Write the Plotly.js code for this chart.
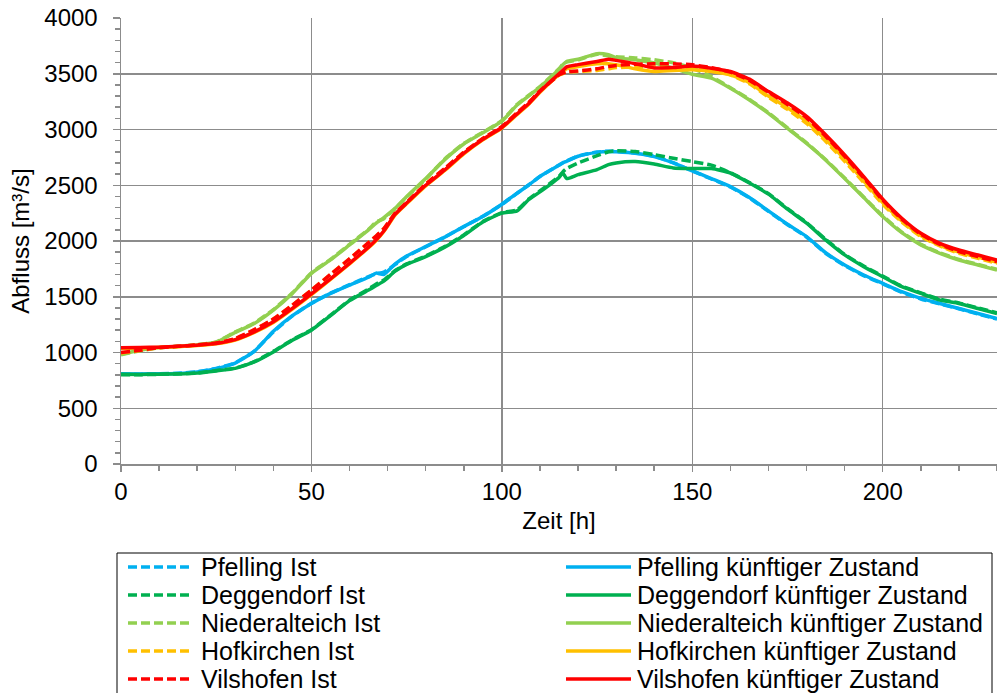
<!DOCTYPE html>
<html>
<head>
<meta charset="utf-8">
<script src="https://cdn.plot.ly/plotly-3.0.1.min.js"></script>
<style>
  html, body { margin: 0; padding: 0; background: #fff; }
  #chart { width: 997px; height: 693px; }
</style>
</head>
<body>
<div id="chart"></div>
<script>
// Zeit [h]
const zeit = [0, 5, 10, 15, 20, 25, 30, 35, 40, 45, 50, 55, 60, 65, 67, 69, 72, 75, 80, 85, 90, 95, 100, 104, 107, 110, 115, 116, 117, 120, 125, 128, 130, 135, 140, 145, 150, 155, 160, 165, 170, 175, 180, 185, 190, 195, 200, 205, 210, 215, 220, 225, 230];

// Abfluss [m³/s] je Pegel, Ist-Zustand und künftiger Zustand
const pfellingIst = [805, 806, 809, 813, 827, 858, 908, 1012, 1185, 1328, 1442, 1532, 1608, 1680, 1705, 1720, 1790, 1862, 1948, 2037, 2128, 2222, 2328, 2428, 2502, 2578, 2682, 2702, 2718, 2762, 2798, 2806, 2804, 2790, 2760, 2702, 2628, 2556, 2484, 2386, 2266, 2146, 2036, 1890, 1780, 1690, 1615, 1540, 1480, 1435, 1392, 1346, 1300];
const pfellingKuenftig = [810, 808, 810, 812, 825, 855, 905, 1010, 1190, 1330, 1440, 1530, 1605, 1675, 1712, 1700, 1795, 1865, 1950, 2035, 2130, 2220, 2330, 2430, 2500, 2580, 2680, 2700, 2715, 2760, 2795, 2803, 2800, 2787, 2757, 2700, 2630, 2560, 2488, 2390, 2270, 2150, 2040, 1895, 1785, 1695, 1620, 1545, 1485, 1440, 1395, 1350, 1305];
const deggendorfIst = [800, 801, 804, 809, 817, 838, 860, 918, 1010, 1115, 1205, 1335, 1470, 1570, 1615, 1650, 1735, 1795, 1865, 1950, 2055, 2175, 2255, 2280, 2375, 2450, 2580, 2620, 2650, 2700, 2765, 2800, 2810, 2803, 2775, 2742, 2712, 2680, 2612, 2525, 2425, 2290, 2165, 2015, 1880, 1775, 1685, 1595, 1535, 1478, 1445, 1400, 1355];
const deggendorfKuenftig = [805, 803, 805, 808, 815, 835, 858, 915, 1005, 1110, 1200, 1330, 1465, 1560, 1600, 1640, 1730, 1790, 1860, 1945, 2050, 2170, 2250, 2270, 2370, 2440, 2570, 2610, 2560, 2595, 2640, 2685, 2700, 2712, 2690, 2655, 2650, 2650, 2610, 2520, 2420, 2285, 2160, 2010, 1875, 1770, 1680, 1590, 1530, 1470, 1440, 1395, 1350];
const niederalteichIst = [980, 1015, 1042, 1055, 1070, 1095, 1185, 1265, 1385, 1535, 1715, 1835, 1970, 2105, 2170, 2200, 2290, 2395, 2555, 2735, 2875, 2975, 3080, 3225, 3305, 3385, 3545, 3585, 3605, 3625, 3675, 3660, 3652, 3642, 3625, 3598, 3550, 3475, 3375, 3270, 3150, 3015, 2880, 2730, 2565, 2395, 2225, 2080, 1970, 1895, 1835, 1790, 1745];
const niederalteichKuenftig = [985, 1020, 1045, 1055, 1068, 1092, 1180, 1260, 1380, 1530, 1710, 1830, 1965, 2100, 2160, 2210, 2295, 2400, 2560, 2730, 2870, 2970, 3075, 3220, 3300, 3380, 3540, 3580, 3610, 3630, 3680, 3670, 3645, 3625, 3596, 3550, 3495, 3460, 3370, 3265, 3145, 3010, 2875, 2727, 2560, 2390, 2220, 2075, 1965, 1890, 1830, 1785, 1740];
const hofkirchenIst = [995, 1018, 1043, 1054, 1067, 1084, 1124, 1204, 1300, 1425, 1560, 1700, 1840, 1985, 2045, 2110, 2250, 2345, 2510, 2650, 2795, 2920, 3025, 3150, 3240, 3345, 3488, 3502, 3515, 3520, 3530, 3545, 3555, 3560, 3560, 3555, 3550, 3530, 3490, 3410, 3290, 3180, 3055, 2895, 2715, 2525, 2330, 2170, 2040, 1955, 1890, 1845, 1800];
const hofkirchenKuenftig = [1035, 1040, 1045, 1052, 1063, 1078, 1112, 1180, 1270, 1390, 1520, 1655, 1795, 1940, 2005, 2085, 2235, 2335, 2495, 2632, 2782, 2908, 3013, 3135, 3225, 3335, 3495, 3522, 3545, 3565, 3590, 3590, 3580, 3545, 3520, 3530, 3535, 3520, 3490, 3420, 3300, 3195, 3070, 2910, 2735, 2540, 2345, 2180, 2050, 1960, 1900, 1855, 1810];
const vilshofenIst = [1000, 1020, 1045, 1055, 1068, 1085, 1125, 1205, 1300, 1425, 1560, 1700, 1840, 1985, 2045, 2110, 2250, 2345, 2510, 2650, 2795, 2920, 3025, 3150, 3240, 3345, 3490, 3505, 3518, 3525, 3545, 3565, 3575, 3585, 3590, 3590, 3580, 3555, 3515, 3440, 3335, 3225, 3105, 2940, 2760, 2565, 2365, 2195, 2060, 1970, 1905, 1860, 1815];
const vilshofenKuenftig = [1042, 1045, 1048, 1055, 1066, 1080, 1115, 1185, 1275, 1395, 1525, 1660, 1800, 1945, 2010, 2090, 2240, 2340, 2500, 2637, 2787, 2913, 3018, 3140, 3230, 3340, 3500, 3530, 3562, 3582, 3610, 3630, 3620, 3590, 3552, 3555, 3570, 3550, 3520, 3452, 3340, 3237, 3117, 2952, 2772, 2578, 2375, 2204, 2069, 1979, 1919, 1874, 1829];

const pegel = ['Pfelling', 'Deggendorf', 'Niederalteich', 'Hofkirchen', 'Vilshofen'];
const farben = ['#00B0F0', '#00B050', '#92D050', '#FFC000', '#FF0000'];
const istWerte = [pfellingIst, deggendorfIst, niederalteichIst, hofkirchenIst, vilshofenIst];
const kuenftigWerte = [pfellingKuenftig, deggendorfKuenftig, niederalteichKuenftig, hofkirchenKuenftig, vilshofenKuenftig];
const suffixIst = ' Ist';
const suffixKuenftig = ' künftiger Zustand';

const FONT = 'Liberation Sans, Arial, sans-serif';
const FS = 24;
const FS_LEG = 25;
const GRID = '#8c8c8c';
const DASH = '9px,4px';
const LW = 3.5;

// Spuren: je Pegel erst Ist, dann künftiger Zustand
const traces = [];
pegel.forEach((p, i) => {
  traces.push({
    x: zeit, y: istWerte[i], type: 'scatter', mode: 'lines', name: p + suffixIst,
    line: { color: farben[i], width: LW, dash: DASH, shape: 'spline', smoothing: 0.5 },
    showlegend: false, hoverinfo: 'x+y+name'
  });
  traces.push({
    x: zeit, y: kuenftigWerte[i], type: 'scatter', mode: 'lines', name: p + suffixKuenftig,
    line: { color: farben[i], width: LW, shape: 'spline', smoothing: 0.5 },
    showlegend: false, hoverinfo: 'x+y+name'
  });
});

// Seitenmaße und Umrechnung Pixel -> Papierkoordinaten für die Legende
const W = 997, H = 693;
const M = { l: 121, r: 0, t: 18, b: 229 };
const pw = W - M.l - M.r, ph = H - M.t - M.b;
const px2x = p => (p - M.l) / pw;
const py2y = p => (H - M.b - p) / ph;

const rowY = [567, 595, 623, 651, 679];
const col = [
  { x0: 128, x1: 193, tx: 199, suffix: suffixIst, dash: 'dash' },
  { x0: 566, x1: 631, tx: 635, suffix: suffixKuenftig, dash: 'solid' }
];

const shapes = [{
  type: 'rect', xref: 'paper', yref: 'paper',
  x0: px2x(117), x1: px2x(992), y0: py2y(553), y1: py2y(710),
  line: { color: '#000', width: 1 }, fillcolor: 'rgba(0,0,0,0)'
}];
const annotations = [];
pegel.forEach((p, i) => {
  col.forEach(c => {
    shapes.push({
      type: 'line', xref: 'paper', yref: 'paper',
      x0: px2x(c.x0), x1: px2x(c.x1), y0: py2y(rowY[i]), y1: py2y(rowY[i]),
      line: { color: farben[i], width: LW, dash: c.dash === 'dash' ? DASH : 'solid' }
    });
    annotations.push({
      xref: 'paper', yref: 'paper', x: px2x(c.tx), y: py2y(rowY[i]),
      xanchor: 'left', yanchor: 'middle', showarrow: false,
      text: p + c.suffix, font: { family: FONT, size: FS_LEG, color: '#000' }
    });
  });
});

const layout = {
  width: W, height: H,
  margin: M,
  paper_bgcolor: '#fff', plot_bgcolor: '#fff',
  font: { family: FONT, size: FS, color: '#000' },
  showlegend: false,
  xaxis: {
    range: [0, 230], dtick: 50, tick0: 0,
    showgrid: true, gridcolor: GRID, gridwidth: 1.5,
    zeroline: false, showline: true, linecolor: GRID, linewidth: 1.5,
    ticks: 'outside', ticklen: 6, tickwidth: 1.5, tickcolor: GRID,
    minor: { dtick: 10, ticks: 'outside', ticklen: 5, tickwidth: 1.5, tickcolor: GRID, showgrid: false },
    tickfont: { family: FONT, size: FS, color: '#000' },
    title: { text: 'Zeit [h]', font: { family: FONT, size: FS, color: '#000' }, standoff: 8 },
    fixedrange: true
  },
  yaxis: {
    range: [0, 4000], dtick: 500, tick0: 0,
    showgrid: true, gridcolor: GRID, gridwidth: 1.5,
    zeroline: false, showline: true, linecolor: GRID, linewidth: 1.5,
    ticks: 'outside', ticklen: 7, tickwidth: 1.5, tickcolor: GRID,
    minor: { dtick: 100, ticks: 'outside', ticklen: 5, tickwidth: 1.5, tickcolor: GRID, showgrid: false },
    tickfont: { family: FONT, size: FS, color: '#000' },
    ticklabelstandoff: 10,
    title: { text: 'Abfluss [m³/s]', font: { family: FONT, size: FS, color: '#000' }, standoff: 8 },
    fixedrange: true
  },
  shapes: shapes,
  annotations: annotations
};

Plotly.newPlot('chart', traces, layout, { displayModeBar: false, staticPlot: true });
</script>
</body>
</html>
